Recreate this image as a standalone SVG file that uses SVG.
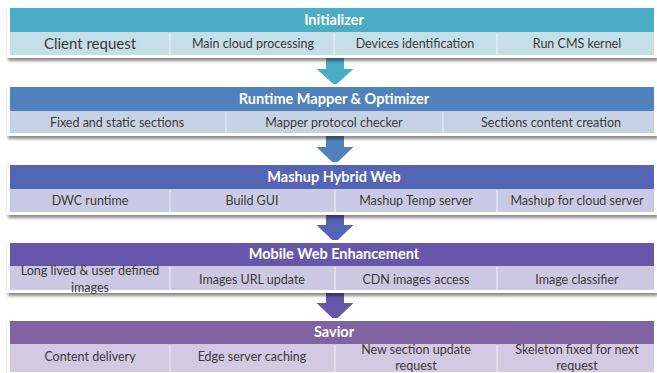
<svg xmlns="http://www.w3.org/2000/svg" width="657" height="373" viewBox="0 0 657 373">
<defs>
<filter id="sh" x="-5%" y="-20%" width="110%" height="150%">
<feGaussianBlur in="SourceAlpha" stdDeviation="1.5"/>
<feOffset dx="1" dy="3"/>
<feComponentTransfer><feFuncA type="linear" slope="0.45"/></feComponentTransfer>
<feMerge><feMergeNode/><feMergeNode in="SourceGraphic"/></feMerge>
</filter>
<style>
.hd{font-family:Lato,"Liberation Sans",sans-serif;font-weight:bold;font-size:14.5px;fill:#fff;text-anchor:middle}
.tx{font-family:Lato,"Liberation Sans",sans-serif;font-size:12.5px;fill:#3a3a3a;text-anchor:middle}
.sep{stroke:#ffffff;stroke-opacity:0.6;stroke-width:1.2}
.frame{fill:#fff}
.arrow{stroke:#fff;stroke-width:2;stroke-linejoin:miter}
</style>
</defs>
<rect width="657" height="373" fill="#fff"/>

<g id="connectors">
<path class="arrow" fill="#4BACC6" d="M325,56 H345 V68 H356 L335,87 L314,68 H325 Z"/>
<path class="arrow" fill="#4F81BD" d="M325,135 H345 V146 H356 L335,166 L314,146 H325 Z"/>
<path class="arrow" fill="#5565B5" d="M325,213 H345 V224 H356 L335,244 L314,224 H325 Z"/>
<path class="arrow" fill="#6657AB" d="M325,291 H345 V302 H356 L335,322 L314,302 H325 Z"/>
</g>

<g id="initializer">
<rect x="7" y="5" width="650" height="53" class="frame" filter="url(#sh)"/>
<rect x="10" y="8" width="644" height="24" fill="#4BACC6"/>
<rect x="10" y="32" width="644" height="23" fill="#C6DEE7"/>
<line class="sep" x1="170" y1="33" x2="170" y2="55"/>
<line class="sep" x1="334" y1="33" x2="334" y2="55"/>
<line class="sep" x1="497" y1="33" x2="497" y2="55"/>
<text class="hd" x="334" y="25">Initializer</text>
<text class="tx" x="90" y="49" style="font-size:15px">Client request</text>
<text class="tx" x="253" y="48">Main cloud processing</text>
<text class="tx" x="415" y="48">Devices identification</text>
<text class="tx" x="577" y="48">Run CMS kernel</text>
</g>

<g id="runtime">
<rect x="7" y="84" width="650" height="52" class="frame" filter="url(#sh)"/>
<rect x="10" y="87" width="644" height="24" fill="#4F81BD"/>
<rect x="10" y="111" width="644" height="22" fill="#C7D3E5"/>
<line class="sep" x1="226" y1="112" x2="226" y2="133"/>
<line class="sep" x1="443" y1="112" x2="443" y2="133"/>
<text class="hd" x="334" y="104">Runtime Mapper &amp; Optimizer</text>
<text class="tx" x="117" y="127">Fixed and static sections</text>
<text class="tx" x="334" y="127">Mapper protocol checker</text>
<text class="tx" x="551" y="127">Sections content creation</text>
</g>

<g id="mashup">
<rect x="7" y="162" width="650" height="53" class="frame" filter="url(#sh)"/>
<rect x="10" y="165" width="644" height="24" fill="#5565B5"/>
<rect x="10" y="189" width="644" height="23" fill="#C9CBE5"/>
<line class="sep" x1="170" y1="190" x2="170" y2="212"/>
<line class="sep" x1="335" y1="190" x2="335" y2="212"/>
<line class="sep" x1="497" y1="190" x2="497" y2="212"/>
<text class="hd" x="334" y="182">Mashup Hybrid Web</text>
<text class="tx" x="90" y="205">DWC runtime</text>
<text class="tx" x="252" y="205">Build GUI</text>
<text class="tx" x="416" y="205">Mashup Temp server</text>
<text class="tx" x="577" y="205">Mashup for cloud server</text>
</g>

<g id="mobile">
<rect x="7" y="240" width="650" height="53" class="frame" filter="url(#sh)"/>
<rect x="10" y="243" width="644" height="23" fill="#6657AB"/>
<rect x="10" y="266" width="644" height="24" fill="#CCC8E2"/>
<line class="sep" x1="170" y1="267" x2="170" y2="290"/>
<line class="sep" x1="335" y1="267" x2="335" y2="290"/>
<line class="sep" x1="497" y1="267" x2="497" y2="290"/>
<text class="hd" x="334" y="259">Mobile Web Enhancement</text>
<text class="tx" x="90" y="275">Long lived &amp; user defined</text>
<text class="tx" x="90" y="292">images</text>
<text class="tx" x="252" y="284">Images URL update</text>
<text class="tx" x="416" y="284">CDN images access</text>
<text class="tx" x="577" y="284">Image classifier</text>
</g>

<g id="savior">
<rect x="7" y="318" width="650" height="55" class="frame" filter="url(#sh)"/>
<rect x="10" y="321" width="644" height="23" fill="#8064A2"/>
<rect x="10" y="344" width="644" height="28" fill="#D3C9E1"/>
<line class="sep" x1="170" y1="345" x2="170" y2="372"/>
<line class="sep" x1="335" y1="345" x2="335" y2="372"/>
<line class="sep" x1="497" y1="345" x2="497" y2="372"/>
<text class="hd" x="334" y="337">Savior</text>
<text class="tx" x="90" y="361">Content delivery</text>
<text class="tx" x="252" y="361">Edge server caching</text>
<text class="tx" x="416" y="354">New section update</text>
<text class="tx" x="416" y="370">request</text>
<text class="tx" x="577" y="354">Skeleton fixed for next</text>
<text class="tx" x="577" y="370">request</text>
</g>
</svg>
